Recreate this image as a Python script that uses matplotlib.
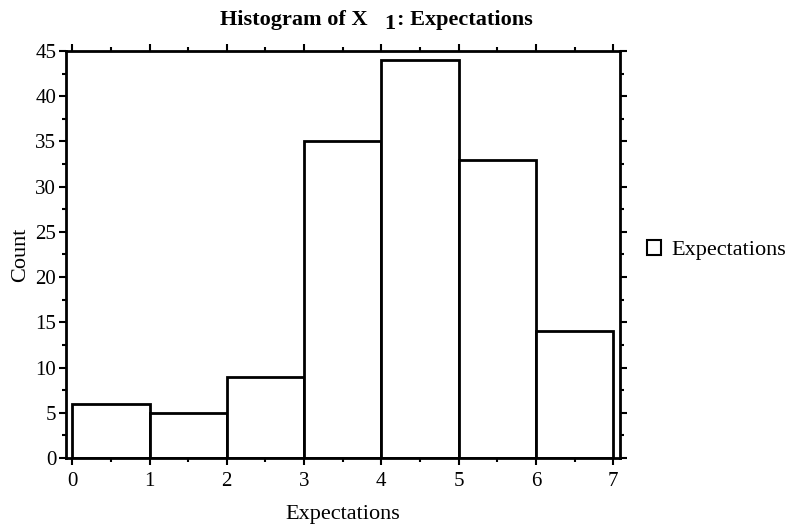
import matplotlib
matplotlib.use("Agg")
import matplotlib.pyplot as plt
from matplotlib.patches import Patch
from matplotlib.ticker import MultipleLocator

plt.rcParams['font.family'] = ['Liberation Serif', 'DejaVu Serif']

bin_edges = [0, 1, 2, 3, 4, 5, 6, 7]
counts = [6, 5, 9, 35, 44, 33, 14]
series_name = "Expectations"
x_label = "Expectations"
y_label = "Count"

fig = plt.figure(figsize=(7.88, 5.25), dpi=100)
ax = fig.add_axes([0.0838, 0.1276, 0.7032, 0.7753])

ax.hist(bin_edges[:-1], bins=bin_edges, weights=counts, histtype='bar',
        facecolor='white', edgecolor='black', linewidth=2.0)

ax.set_xlim(-0.08, 7.09)
ax.set_ylim(0, 45)
ax.xaxis.set_major_locator(MultipleLocator(1))
ax.xaxis.set_minor_locator(MultipleLocator(0.5))
ax.yaxis.set_major_locator(MultipleLocator(5))
ax.yaxis.set_minor_locator(MultipleLocator(2.5))
ax.tick_params(which='both', direction='out', top=True, right=True,
               labeltop=False, labelright=False, width=1.5, colors='black')
ax.tick_params(which='major', length=5, labelsize=15)
ax.tick_params(axis='x', which='major', pad=5)
ax.tick_params(axis='y', which='major', pad=2)
ax.tick_params(which='minor', length=3)
for s in ax.spines.values():
    s.set_linewidth(2.0)

ax.set_xlabel(x_label, fontsize=16, labelpad=10)
ax.set_ylabel(y_label, fontsize=16, labelpad=4)

# title with detached subscript
fig.text(220 / 788, 1 - 25 / 525, "Histogram of X", fontsize=16, fontweight='bold', ha='left', va='baseline')
fig.text(384 / 788, 1 - 29 / 525, "1", fontsize=16, fontweight='bold', ha='left', va='baseline')
fig.text(397 / 788, 1 - 25 / 525, ": Expectations", fontsize=16, fontweight='bold', ha='left', va='baseline')

handles = [Patch(facecolor='white', edgecolor='black', linewidth=1.5, label=series_name)]
fig.legend(handles=handles, loc='center left', bbox_to_anchor=(0.8215, 0.523),
           frameon=False, fontsize=16, handlelength=0.6, handleheight=0.6,
           handletextpad=0.5, borderpad=0, borderaxespad=0)

fig.savefig("out.png", dpi=100)
